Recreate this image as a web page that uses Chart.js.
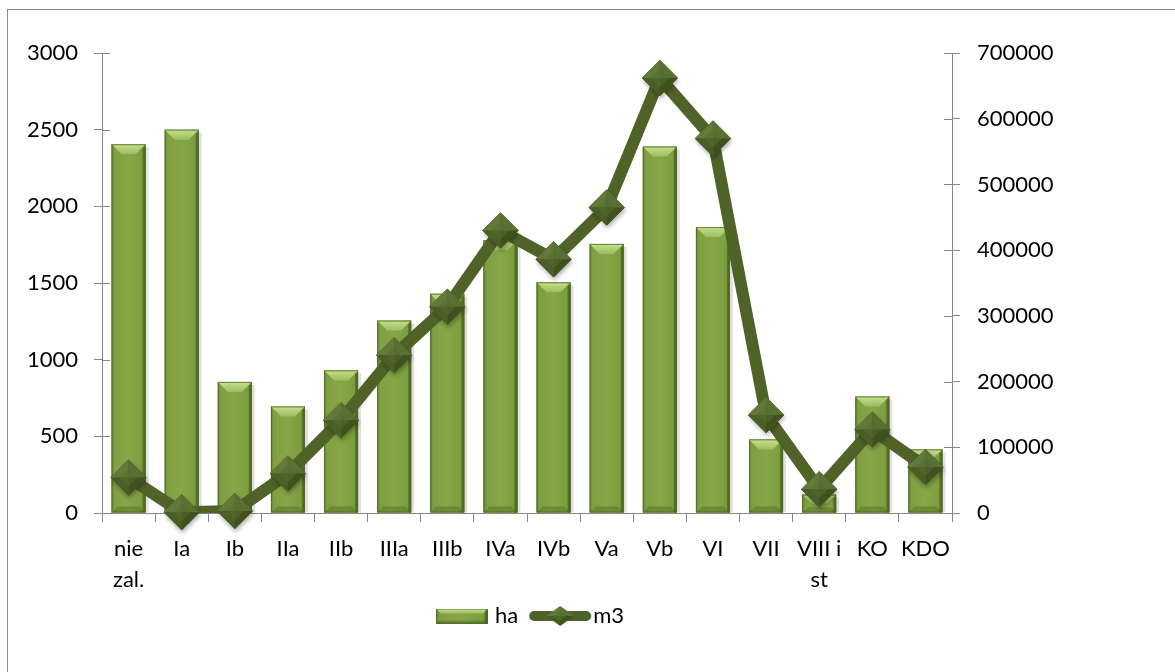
<!DOCTYPE html>
<html><head><meta charset="utf-8">
<script src="https://cdn.jsdelivr.net/npm/chart.js@4.4.1/dist/chart.umd.min.js"></script>
<style>
html,body{margin:0;padding:0;background:#fff;}
#wrap{position:relative;width:1175px;height:672px;overflow:hidden;background:#fff;}
#frame{position:absolute;left:7px;top:9px;width:1200px;height:700px;border-left:1px solid #8c8c8c;border-top:1px solid #8c8c8c;}
canvas{position:absolute;left:0;top:0;}
</style></head><body>
<div id="wrap"><div id="frame"></div><canvas id="c" width="1175" height="672"></canvas></div>
<script>
const categories = [['nie','zal.'],'Ia','Ib','IIa','IIb','IIIa','IIIb','IVa','IVb','Va','Vb','VI','VII',['VIII i','st'],'KO','KDO'];
const haValues = [2405, 2500, 855, 695, 930, 1255, 1430, 1780, 1505, 1755, 2390, 1865, 480, 120, 760, 415];
const m3Values = [54000, 1000, 3000, 60000, 141000, 240000, 314000, 430000, 386000, 465000, 662000, 570000, 149000, 36000, 127000, 70000];
const leftTicks = [0, 500, 1000, 1500, 2000, 2500, 3000];
const rightTicks = [0, 100000, 200000, 300000, 400000, 500000, 600000, 700000];
const seriesNames = ['ha', 'm3'];

const FONT = {family: 'Lato', size: 22};
const AXIS = '#868686';

function drawBevelBar(ctx, l, t, w, h, bvMax) {
  const r = l + w, b = t + h;
  const bv = Math.min(bvMax, h / 2, w / 2);
  let g = ctx.createLinearGradient(l, 0, r, 0);
  g.addColorStop(0, '#64802e'); g.addColorStop(0.08, '#7f9f42'); g.addColorStop(0.5, '#86a648');
  g.addColorStop(0.9, '#7c9d3e'); g.addColorStop(1, '#536f26');
  ctx.fillStyle = g; ctx.fillRect(l, t, w, h);
  g = ctx.createLinearGradient(0, t, 0, t + bv);
  g.addColorStop(0, '#c6e090'); g.addColorStop(1, '#9dbd5e');
  ctx.fillStyle = g;
  ctx.beginPath(); ctx.moveTo(l, t); ctx.lineTo(r, t); ctx.lineTo(r - bv, t + bv); ctx.lineTo(l + bv, t + bv); ctx.closePath(); ctx.fill();
  const bb = Math.min(bv * 0.6, h / 3);
  ctx.fillStyle = 'rgba(70,95,30,0.35)';
  ctx.beginPath(); ctx.moveTo(l, b); ctx.lineTo(r, b); ctx.lineTo(r - bb, b - bb); ctx.lineTo(l + bb, b - bb); ctx.closePath(); ctx.fill();
  ctx.fillStyle = 'rgba(60,80,20,0.45)';
  ctx.fillRect(r - 3, t + bv * 0.3, 3, h - bv * 0.3);
  ctx.strokeStyle = 'rgba(80,105,40,0.8)'; ctx.lineWidth = 1;
  ctx.strokeRect(l + 0.5, t + 0.5, w - 1, h - 1);
}

function drawDiamond(ctx, x, y, rx, ry) {
  const faces = [
    [[x - rx, y], [x, y - ry], '#617a3a'],
    [[x, y - ry], [x + rx, y], '#587032'],
    [[x + rx, y], [x, y + ry], '#3f521d'],
    [[x, y + ry], [x - rx, y], '#4a5e25']
  ];
  faces.forEach(f => {
    ctx.fillStyle = f[2];
    ctx.beginPath(); ctx.moveTo(f[0][0], f[0][1]); ctx.lineTo(f[1][0], f[1][1]); ctx.lineTo(x, y); ctx.closePath(); ctx.fill();
  });
  const k = 0.5;
  ctx.fillStyle = 'rgba(85,108,45,0.55)';
  ctx.beginPath(); ctx.moveTo(x - rx * k, y); ctx.lineTo(x, y - ry * k); ctx.lineTo(x + rx * k, y); ctx.lineTo(x, y + ry * k); ctx.closePath(); ctx.fill();
}

// legend swatches
const haSwatch = document.createElement('canvas');
haSwatch.width = 52; haSwatch.height = 15;
drawBevelBar(haSwatch.getContext('2d'), 0, 0, 52, 15, 5);
const m3Swatch = document.createElement('canvas');
m3Swatch.width = 64; m3Swatch.height = 22;
(function () {
  const c = m3Swatch.getContext('2d');
  c.strokeStyle = '#4f6228'; c.lineWidth = 10; c.lineCap = 'round';
  c.beginPath(); c.moveTo(6, 11); c.lineTo(58, 11); c.stroke();
  drawDiamond(c, 32, 11, 14, 10);
})();

const bevelPlugin = {
  id: 'bevel',
  afterLayout(chart) {
    const lg = chart.legend;
    if (lg) { lg.top -= 12; lg.bottom -= 12; lg.left += 5; lg.right += 5; }
  },
  beforeDatasetDraw(chart, args) {
    if (args.meta.type !== 'bar') return;
    const ctx = chart.ctx;
    ctx.save();
    ctx.fillStyle = 'rgba(0,0,0,0.12)';
    args.meta.data.forEach(bar => {
      const p = bar.getProps(['x', 'y', 'base', 'width'], true);
      ctx.fillRect(p.x - p.width / 2 + 3, Math.min(p.y, p.base) + 3, p.width, Math.abs(p.base - p.y) - 3);
    });
    ctx.restore();
  },
  afterDatasetDraw(chart, args) {
    const ctx = chart.ctx;
    const meta = args.meta;
    ctx.save();
    if (meta.type === 'bar') {
      meta.data.forEach(bar => {
        const p = bar.getProps(['x', 'y', 'base', 'width'], true);
        drawBevelBar(ctx, p.x - p.width / 2, Math.min(p.y, p.base), p.width, Math.abs(p.base - p.y), 10);
      });
    } else if (meta.type === 'line') {
      meta.data.forEach(pt => {
        const p = pt.getProps(['x', 'y'], true);
        const r = pt.options.radius;
        ctx.save();
        ctx.shadowColor = 'rgba(0,0,0,0.3)'; ctx.shadowBlur = 4; ctx.shadowOffsetX = 1; ctx.shadowOffsetY = 3;
        ctx.fillStyle = '#4f6228';
        ctx.beginPath(); ctx.moveTo(p.x - r, p.y); ctx.lineTo(p.x, p.y - r); ctx.lineTo(p.x + r, p.y); ctx.lineTo(p.x, p.y + r); ctx.closePath(); ctx.fill();
        ctx.restore();
        drawDiamond(ctx, p.x, p.y, r, r);
      });
    }
    ctx.restore();
  },
  afterDraw(chart) {
    const ctx = chart.ctx;
    ctx.save();
    ctx.strokeStyle = AXIS; ctx.lineWidth = 1;
    const yl = chart.scales.y, yr = chart.scales.y1;
    yl.ticks.forEach(t => {
      const py = Math.round(yl.getPixelForValue(t.value)) + 0.5;
      ctx.beginPath(); ctx.moveTo(yl.right, py); ctx.lineTo(yl.right + 8, py); ctx.stroke();
    });
    yr.ticks.forEach(t => {
      const py = Math.round(yr.getPixelForValue(t.value)) + 0.5;
      ctx.beginPath(); ctx.moveTo(yr.left - 8, py); ctx.lineTo(yr.left, py); ctx.stroke();
    });
    ctx.restore();
  }
};

new Chart(document.getElementById('c'), {
  data: {
    labels: categories,
    datasets: [
      {type: 'bar', label: seriesNames[0], data: haValues, yAxisID: 'y', backgroundColor: '#7f9f42', borderWidth: 0, barPercentage: 0.64, categoryPercentage: 1, order: 1},
      {type: 'line', label: seriesNames[1], data: m3Values, yAxisID: 'y1', borderColor: '#4f6228', borderWidth: 12, backgroundColor: '#4f6228', pointStyle: 'rectRot', pointRadius: 18, pointHoverRadius: 18, pointBackgroundColor: '#4f6228', pointBorderWidth: 0, tension: 0, order: 0, borderJoinStyle: 'round'}
    ]
  },
  options: {
    responsive: false, animation: false, devicePixelRatio: 1,
    layout: {padding: {top: 53, left: 0, right: 0, bottom: 23}},
    plugins: {
      tooltip: {enabled: false},
      legend: {
        position: 'bottom', fullSize: false,
        labels: {
          font: FONT, color: '#000', padding: 20, usePointStyle: true, pointStyleWidth: 44, boxHeight: 22,
          generateLabels(chart) {
            return chart.data.datasets.map((ds, i) => ({text: ds.label, pointStyle: i === 0 ? haSwatch : m3Swatch, fillStyle: 'rgba(0,0,0,0)', strokeStyle: 'rgba(0,0,0,0)', lineWidth: 0, hidden: false, datasetIndex: i, fontColor: '#000'}));
          }
        }
      }
    },
    scales: {
      x: {
        offset: true,
        grid: {display: true, drawOnChartArea: false, drawTicks: true, tickLength: 9, color: AXIS, offset: true},
        border: {display: true, color: AXIS},
        ticks: {font: {family: 'Lato', size: 22, lineHeight: 1.41}, color: '#000', padding: 11, maxRotation: 0, autoSkip: false},
        afterFit(s) { s.height = 84; }
      },
      y: {
        position: 'left', min: 0, max: 3000,
        afterBuildTicks(s) { s.ticks = leftTicks.map(v => ({value: v})); },
        grid: {display: true, drawOnChartArea: false, drawTicks: true, tickLength: 8, color: AXIS},
        border: {display: true, color: AXIS},
        ticks: {font: FONT, color: '#000', padding: 16, callback: v => String(v)},
        afterFit(s) { s.width = 102; }
      },
      y1: {
        position: 'right', min: 0, max: 700000,
        afterBuildTicks(s) { s.ticks = rightTicks.map(v => ({value: v})); },
        grid: {display: true, drawOnChartArea: false, drawTicks: true, tickLength: 8, color: AXIS},
        border: {display: true, color: AXIS},
        ticks: {font: FONT, color: '#000', padding: 17, callback: v => String(v)},
        afterFit(s) { s.width = 223; }
      }
    }
  },
  plugins: [bevelPlugin]
});
</script>
</body></html>
